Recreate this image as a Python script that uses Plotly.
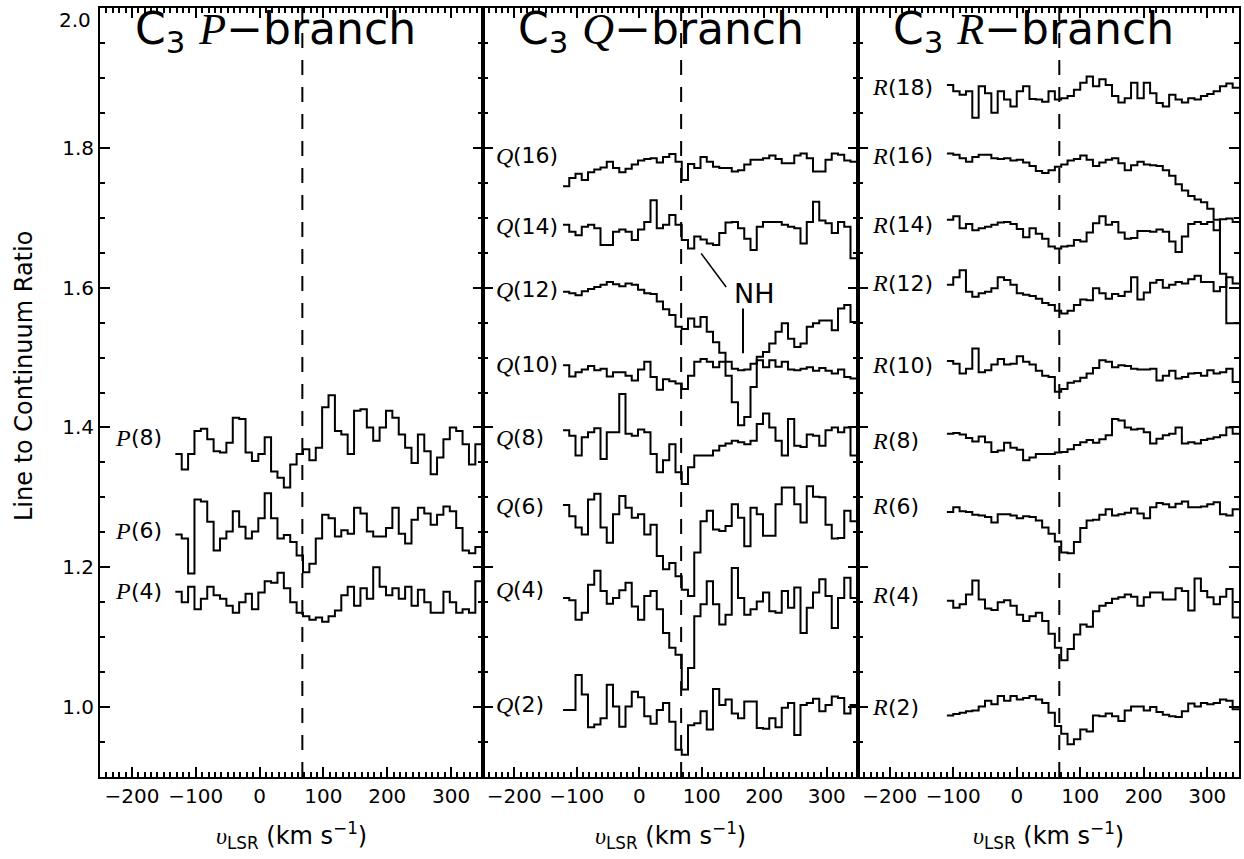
import plotly.graph_objects as go

# ---------------- data ----------------
BIN = 10.0            # km/s per channel
START_P = -132.0      # first channel edge, P-branch panel
START_Q = -122.0      # first channel edge, Q-branch panel
START_R = -110.0      # first channel edge, R-branch panel
V_CLOUD = 67.0        # dashed reference velocity

P8 = [1.362,1.340,1.362,1.395,1.398,1.383,1.366,1.364,1.378,1.414,1.412,1.364,1.352,1.362,1.386,1.337,1.328,1.314,1.347,1.362,1.369,1.353,1.371,1.429,1.446,1.395,1.390,1.362,1.424,1.426,1.400,1.381,1.400,1.424,1.414,1.390,1.371,1.349,1.390,1.366,1.333,1.357,1.383,1.400,1.395,1.376,1.347,1.376]
P6 = [1.247,1.241,1.191,1.297,1.294,1.265,1.224,1.241,1.251,1.280,1.258,1.241,1.251,1.270,1.306,1.270,1.241,1.246,1.236,1.217,1.193,1.205,1.241,1.275,1.270,1.244,1.253,1.248,1.285,1.277,1.251,1.244,1.244,1.256,1.285,1.248,1.234,1.268,1.285,1.277,1.261,1.275,1.287,1.280,1.256,1.224,1.220,1.229]
P4 = [1.165,1.150,1.172,1.140,1.155,1.172,1.160,1.155,1.145,1.135,1.150,1.162,1.140,1.164,1.180,1.178,1.192,1.170,1.150,1.135,1.130,1.125,1.128,1.122,1.130,1.138,1.160,1.172,1.145,1.170,1.155,1.200,1.172,1.160,1.170,1.155,1.172,1.145,1.168,1.150,1.135,1.135,1.165,1.150,1.135,1.140,1.135,1.180]

Q16 = [1.745,1.757,1.763,1.754,1.765,1.769,1.772,1.780,1.771,1.765,1.770,1.776,1.782,1.784,1.785,1.779,1.787,1.791,1.780,1.754,1.777,1.771,1.787,1.780,1.773,1.771,1.771,1.766,1.768,1.776,1.783,1.783,1.785,1.789,1.784,1.778,1.778,1.789,1.792,1.785,1.766,1.766,1.783,1.792,1.790,1.782,1.780]
Q14 = [1.690,1.680,1.675,1.687,1.690,1.685,1.661,1.661,1.680,1.683,1.680,1.668,1.683,1.694,1.725,1.685,1.690,1.704,1.690,1.668,1.656,1.673,1.669,1.663,1.661,1.678,1.693,1.694,1.685,1.670,1.654,1.687,1.694,1.694,1.694,1.690,1.687,1.685,1.663,1.694,1.723,1.696,1.692,1.678,1.694,1.687,1.642]
Q12 = [1.594,1.592,1.589,1.595,1.598,1.601,1.604,1.608,1.605,1.602,1.606,1.604,1.597,1.592,1.591,1.580,1.569,1.561,1.544,1.541,1.556,1.544,1.558,1.537,1.522,1.507,1.494,1.484,1.482,1.483,1.491,1.501,1.508,1.520,1.537,1.549,1.527,1.515,1.520,1.544,1.549,1.553,1.553,1.539,1.570,1.575,1.551]
Q10 = [1.489,1.473,1.479,1.483,1.488,1.482,1.484,1.473,1.479,1.479,1.474,1.467,1.483,1.494,1.472,1.454,1.469,1.466,1.463,1.455,1.474,1.494,1.498,1.494,1.486,1.494,1.474,1.436,1.403,1.415,1.458,1.496,1.486,1.496,1.487,1.494,1.483,1.482,1.484,1.486,1.481,1.485,1.481,1.477,1.483,1.472,1.470]
Q8 = [1.396,1.388,1.360,1.386,1.393,1.399,1.355,1.393,1.393,1.448,1.391,1.388,1.397,1.393,1.362,1.336,1.353,1.376,1.336,1.319,1.343,1.360,1.360,1.360,1.367,1.374,1.377,1.381,1.379,1.376,1.381,1.405,1.420,1.400,1.381,1.360,1.412,1.374,1.372,1.390,1.388,1.374,1.396,1.400,1.393,1.400,1.360]
Q6 = [1.289,1.273,1.257,1.247,1.297,1.305,1.257,1.235,1.276,1.302,1.285,1.271,1.276,1.247,1.261,1.216,1.197,1.206,1.187,1.168,1.159,1.221,1.266,1.281,1.254,1.252,1.259,1.290,1.271,1.230,1.285,1.276,1.245,1.245,1.290,1.314,1.314,1.290,1.264,1.316,1.301,1.300,1.261,1.241,1.242,1.281,1.266]
Q4 = [1.156,1.153,1.125,1.135,1.175,1.195,1.166,1.148,1.156,1.167,1.178,1.144,1.125,1.159,1.166,1.140,1.106,1.085,1.075,1.025,1.056,1.130,1.147,1.180,1.147,1.118,1.132,1.199,1.156,1.132,1.140,1.151,1.164,1.137,1.135,1.166,1.142,1.171,1.106,1.142,1.164,1.183,1.159,1.113,1.156,1.185,1.156]
Q2 = [0.996,0.996,1.046,1.018,0.971,0.975,0.984,1.032,1.001,0.972,1.001,1.022,1.014,0.987,0.976,0.996,1.006,0.979,0.939,0.932,0.974,0.977,0.994,0.968,1.026,1.003,1.011,0.991,0.984,1.008,1.008,0.970,0.969,0.984,0.971,0.999,1.006,0.960,1.003,1.006,1.012,0.994,1.003,1.015,1.013,0.991,1.003]

R18 = [1.890,1.881,1.876,1.881,1.843,1.888,1.878,1.850,1.881,1.869,1.859,1.881,1.888,1.870,1.869,1.866,1.881,1.869,1.871,1.874,1.883,1.893,1.902,1.888,1.898,1.890,1.874,1.865,1.871,1.893,1.871,1.893,1.878,1.864,1.859,1.876,1.869,1.865,1.871,1.869,1.874,1.877,1.881,1.888,1.892,1.886]
R16 = [1.792,1.790,1.785,1.780,1.787,1.790,1.790,1.785,1.784,1.785,1.782,1.783,1.779,1.774,1.767,1.764,1.768,1.773,1.776,1.782,1.784,1.789,1.783,1.774,1.779,1.783,1.785,1.778,1.768,1.775,1.780,1.776,1.775,1.774,1.768,1.760,1.748,1.739,1.731,1.726,1.722,1.713,1.697,1.620,1.549,1.549]
R14 = [1.697,1.702,1.685,1.691,1.682,1.685,1.687,1.690,1.693,1.694,1.691,1.684,1.672,1.685,1.677,1.670,1.659,1.656,1.659,1.660,1.668,1.666,1.679,1.692,1.702,1.690,1.694,1.679,1.670,1.671,1.681,1.681,1.680,1.683,1.680,1.666,1.651,1.673,1.691,1.694,1.691,1.694,1.682,1.698,1.699,1.694]
R12 = [1.604,1.615,1.625,1.594,1.587,1.592,1.594,1.599,1.615,1.611,1.604,1.592,1.590,1.588,1.584,1.578,1.575,1.567,1.563,1.567,1.575,1.583,1.582,1.599,1.592,1.584,1.591,1.588,1.594,1.615,1.583,1.593,1.607,1.611,1.600,1.604,1.608,1.606,1.612,1.617,1.608,1.608,1.595,1.601,1.615,1.606]
R10 = [1.495,1.491,1.477,1.484,1.513,1.479,1.482,1.490,1.498,1.490,1.491,1.502,1.494,1.490,1.481,1.474,1.472,1.451,1.455,1.464,1.466,1.471,1.477,1.485,1.496,1.494,1.486,1.489,1.488,1.484,1.483,1.483,1.484,1.467,1.474,1.481,1.470,1.472,1.477,1.478,1.474,1.482,1.477,1.479,1.484,1.465]
R8 = [1.391,1.392,1.390,1.385,1.380,1.387,1.379,1.365,1.367,1.378,1.371,1.368,1.353,1.357,1.362,1.362,1.362,1.364,1.365,1.369,1.375,1.379,1.382,1.378,1.383,1.389,1.412,1.410,1.400,1.397,1.398,1.393,1.377,1.384,1.389,1.391,1.400,1.377,1.379,1.377,1.382,1.384,1.386,1.389,1.400,1.391]
R6 = [1.279,1.286,1.280,1.279,1.275,1.274,1.272,1.264,1.276,1.276,1.274,1.270,1.273,1.272,1.267,1.257,1.248,1.237,1.221,1.220,1.236,1.256,1.267,1.268,1.275,1.283,1.274,1.276,1.278,1.284,1.277,1.270,1.286,1.292,1.290,1.286,1.291,1.294,1.286,1.286,1.287,1.290,1.293,1.276,1.274,1.283]
R4 = [1.152,1.142,1.147,1.161,1.181,1.154,1.141,1.139,1.150,1.153,1.145,1.132,1.123,1.130,1.135,1.123,1.105,1.085,1.067,1.083,1.104,1.118,1.115,1.137,1.145,1.149,1.155,1.157,1.161,1.158,1.145,1.157,1.164,1.164,1.154,1.154,1.170,1.166,1.138,1.184,1.166,1.157,1.147,1.158,1.169,1.128]
R2 = [0.988,0.990,0.992,0.994,0.995,1.001,1.009,1.004,1.016,1.009,1.016,1.011,1.013,1.016,1.011,1.006,0.992,0.973,0.962,0.947,0.954,0.968,0.965,0.988,0.987,0.991,0.987,0.980,0.995,1.001,1.001,0.995,1.000,0.993,0.989,0.987,0.986,0.994,1.005,1.001,1.006,1.004,1.006,1.011,1.009,0.997]

X_TICKS = [-200, -100, 0, 100, 200, 300]
Y_TICKS = [1.0, 1.2, 1.4, 1.6, 1.8]
Y_TOP_LABEL = "2.0"

PANELS = [
    ("P", START_P, [("8", P8), ("6", P6), ("4", P4)]),
    ("Q", START_Q, [("16", Q16), ("14", Q14), ("12", Q12), ("10", Q10),
                    ("8", Q8), ("6", Q6), ("4", Q4), ("2", Q2)]),
    ("R", START_R, [("18", R18), ("16", R16), ("14", R14), ("12", R12),
                    ("10", R10), ("8", R8), ("6", R6), ("4", R4), ("2", R2)]),
]

# label placement (layout only)
LABEL_Y = {
    "P": {"8": 1.385, "6": 1.252, "4": 1.166},
    "Q": {"16": 1.789, "14": 1.688, "12": 1.597, "10": 1.490, "8": 1.385,
          "6": 1.287, "4": 1.168, "2": 1.003},
    "R": {"18": 1.887, "16": 1.789, "14": 1.690, "12": 1.606, "10": 1.489,
          "8": 1.381, "6": 1.287, "4": 1.160, "2": 1.000},
}

# ---------------- figure ----------------
W, H = 1244, 859
PLOT_TOP, PLOT_BOTTOM = 8, 777
PH = PLOT_BOTTOM - PLOT_TOP
DOMAINS = [(100 / W, 483 / W), (483 / W, 858 / W), (858 / W, 1239 / W)]
XR = [-250, 350]
YR = [0.9, 2.0]
SANS = "DejaVu Sans"
SERIF = "Liberation Serif"
BLACK = "black"
LABEL_X = -202


def py(pix):
    """pixel row -> paper y"""
    return (PLOT_BOTTOM - pix) / PH


fig = go.Figure()
ann = []
shapes = []

for k, (branch, start, specs) in enumerate(PANELS):
    xa = "x" if k == 0 else f"x{k+1}"
    ya = "y" if k == 0 else f"y{k+1}"
    for j, vals in specs:
        xs = [start + BIN * i for i in range(len(vals) + 1)]
        ys = list(vals) + [vals[-1]]
        fig.add_trace(go.Scatter(x=xs, y=ys, mode="lines", line_shape="hv",
                                 line=dict(color=BLACK, width=2),
                                 xaxis=xa, yaxis=ya, showlegend=False,
                                 hoverinfo="skip"))
        ly = LABEL_Y[branch][j]
        ann.append(dict(x=LABEL_X, y=ly, xref=xa, yref=ya, xanchor="right",
                        yanchor="middle", showarrow=False, xshift=2,
                        text=f"<i>{branch}</i>",
                        font=dict(family=SERIF, size=24, color=BLACK)))
        ann.append(dict(x=LABEL_X, y=ly, xref=xa, yref=ya, xanchor="left",
                        yanchor="middle", showarrow=False, xshift=-2,
                        text=f"({j})",
                        font=dict(family=SANS, size=22, color=BLACK)))
    # dashed reference line
    fig.add_trace(go.Scatter(x=[V_CLOUD, V_CLOUD], y=YR, mode="lines",
                             line=dict(color=BLACK, width=2, dash="15px,12px"),
                             xaxis=xa, yaxis=ya, showlegend=False,
                             hoverinfo="skip"))
    # panel title
    ann.append(dict(x=-198, y=2.0, xref=xa, yref=ya, xanchor="left",
                    yanchor="top", yshift=7, showarrow=False,
                    text=f'C<sub>3</sub> <span style="font-family:{SERIF}"><i>{branch}</i></span>\u2212branch',
                    font=dict(family=SANS, size=44, color=BLACK)))
    # x-axis title
    ann.append(dict(x=(DOMAINS[k][0] + DOMAINS[k][1]) / 2, y=py(835),
                    xref="paper", yref="paper", xanchor="center",
                    yanchor="middle", showarrow=False,
                    text=f'<span style="font-family:{SERIF}"><i>\u03c5</i></span><sub>LSR</sub> (km s<sup>\u22121</sup>)',
                    font=dict(family=SANS, size=24, color=BLACK)))

# top y label (drawn slightly below the frame, as in the original)
ann.append(dict(x=93 / W, y=py(20), xref="paper", yref="paper",
                xanchor="right", yanchor="middle", showarrow=False,
                text=Y_TOP_LABEL, font=dict(family=SANS, size=20, color=BLACK)))

# NH annotation in Q panel
ann.append(dict(x=184, y=1.592, xref="x2", yref="y2", showarrow=False,
                text="NH", font=dict(family=SANS, size=27, color=BLACK)))
shapes.append(dict(type="line", xref="x2", yref="y2", x0=99, y0=1.649,
                   x1=139, y1=1.601, line=dict(color=BLACK, width=1.5)))
shapes.append(dict(type="line", xref="x2", yref="y2", x0=166, y0=1.570,
                   x1=166, y1=1.506, line=dict(color=BLACK, width=2)))

# y-axis title
ann.append(dict(x=24 / W, y=py(376), xref="paper", yref="paper",
                xanchor="center", yanchor="middle", textangle=-90,
                showarrow=False, text="Line to Continuum Ratio",
                font=dict(family=SANS, size=24, color=BLACK)))

axis_common = dict(showline=True, linewidth=2, linecolor=BLACK, mirror="ticks",
                   ticks="inside", ticklen=10, tickwidth=1.5, tickcolor=BLACK,
                   showgrid=False, zeroline=False,
                   tickfont=dict(family=SANS, size=20, color=BLACK))

layout = dict(width=W, height=H,
              margin=dict(l=0, r=0, t=PLOT_TOP, b=H - PLOT_BOTTOM),
              paper_bgcolor="white", plot_bgcolor="white",
              annotations=ann, shapes=shapes, showlegend=False)

for k in range(3):
    xname = "xaxis" if k == 0 else f"xaxis{k+1}"
    yname = "yaxis" if k == 0 else f"yaxis{k+1}"
    ya = "y" if k == 0 else f"y{k+1}"
    xa = "x" if k == 0 else f"x{k+1}"
    layout[xname] = dict(axis_common, domain=list(DOMAINS[k]), range=XR,
                         anchor=ya, tickvals=X_TICKS,
                         minor=dict(dtick=10, ticklen=5, ticks="inside",
                                    tickcolor=BLACK, tickwidth=1.5))
    layout[yname] = dict(axis_common, domain=[0, 1], range=YR, anchor=xa,
                         tickvals=Y_TICKS, tickformat=".1f",
                         showticklabels=(k == 0),
                         minor=dict(dtick=0.05, ticklen=5, ticks="inside",
                                    tickcolor=BLACK, tickwidth=1.5))

fig.update_layout(**layout)
fig.write_html("out.html", config={"displayModeBar": False},
               post_script="document.body.style.margin='0';document.body.style.overflow='hidden';")
